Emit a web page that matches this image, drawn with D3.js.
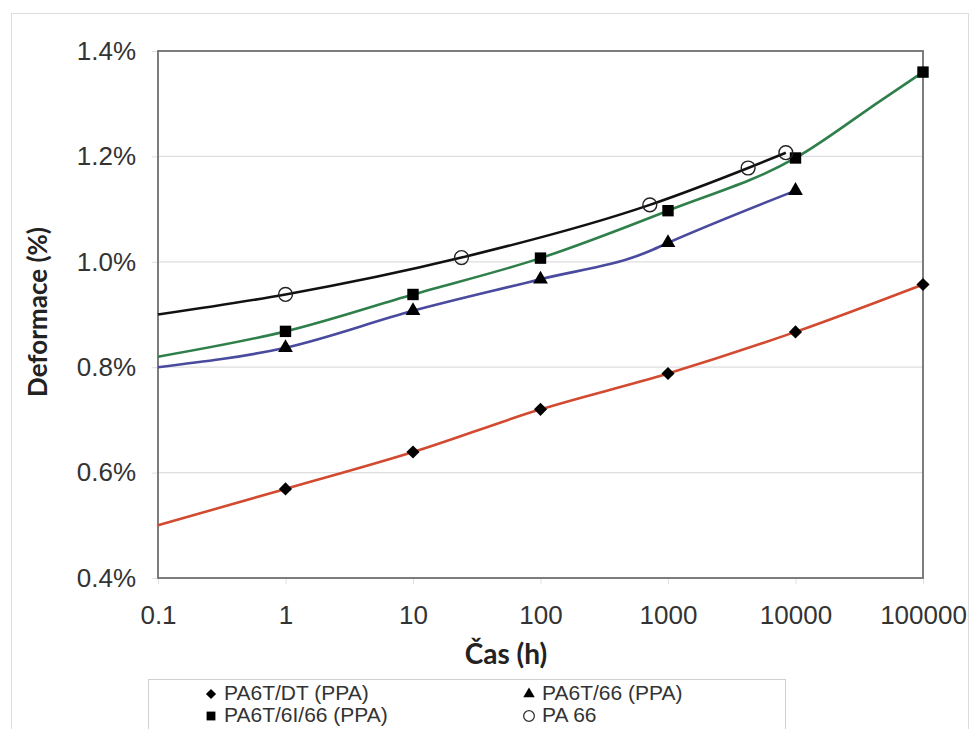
<!DOCTYPE html>
<html>
<head>
<meta charset="utf-8">
<script src="https://cdnjs.cloudflare.com/ajax/libs/d3/7.8.5/d3.min.js"></script>
<style>
  html, body { margin: 0; padding: 0; background: #fff; }
  svg { display: block; }
</style>
</head>
<body>
<svg id="chart" width="971" height="729"></svg>
<script>
"use strict";

// time axis (hours, log scale) and deformation axis (%)
const xTicks = [0.1, 1, 10, 100, 1000, 10000, 100000];
const yTicks = [0.4, 0.6, 0.8, 1.0, 1.2, 1.4];

// PA6T/DT (PPA) - red, diamonds
const dtTimes  = [0.1, 1, 10, 100, 1000, 10000, 100000];
const dtValues = [0.500, 0.569, 0.639, 0.720, 0.788, 0.867, 0.957];
const dtMarked = [0, 1, 1, 1, 1, 1, 1];

// PA6T/66 (PPA) - blue, triangles
const t66Times  = [0.1, 1, 10, 100, 680, 1000, 10000];
const t66Values = [0.800, 0.837, 0.907, 0.967, 1.018, 1.036, 1.135];
const t66Marked = [0, 1, 1, 1, 0, 1, 1];

// PA6T/6I/66 (PPA) - green, squares
const t6iTimes  = [0.1, 1, 10, 100, 1000, 10000, 46000, 100000];
const t6iValues = [0.820, 0.868, 0.938, 1.007, 1.097, 1.197, 1.305, 1.360];
const t6iMarked = [0, 1, 1, 1, 1, 1, 0, 1];

// PA 66 - black, open circles
const pa66Times  = [0.1, 1, 24, 720, 4250, 8400];
const pa66Values = [0.900, 0.938, 1.008, 1.108, 1.178, 1.207];
const pa66Marked = [0, 1, 1, 1, 1, 1];

const series = [
    { name: 'PA6T/DT (PPA)', times: dtTimes, values: dtValues, marked: dtMarked, color: '#d24a30', symbol: d3.symbolDiamond2, fill: '#000' },
    { name: 'PA6T/66 (PPA)', times: t66Times, values: t66Values, marked: t66Marked, color: '#4a4a9e', symbol: d3.symbolTriangle, fill: '#000' },
    { name: 'PA6T/6I/66 (PPA)', times: t6iTimes, values: t6iValues, marked: t6iMarked, color: '#2f7f4b', symbol: d3.symbolSquare, fill: '#000' },
    { name: 'PA 66', times: pa66Times, values: pa66Values, marked: pa66Marked, color: '#111', symbol: d3.symbolCircle, fill: 'none' }
];

// legend order as in the picture: two columns
const legendOrder = ['PA6T/DT (PPA)', 'PA6T/66 (PPA)', 'PA6T/6I/66 (PPA)', 'PA 66'];

const svg = d3.select('#chart');
const plot = { left: 158, top: 51, right: 923, bottom: 578 };

const x = d3.scaleLog()
    .domain([0.1, 100000])
    .range([plot.left, plot.right]);
const y = d3.scaleLinear()
    .domain([0.4, 1.4])
    .range([plot.bottom, plot.top]);

// outer chart frame
svg.append('rect')
    .attr('x', 11.5)
    .attr('y', 13.5)
    .attr('width', 957)
    .attr('height', 740)
    .attr('fill', '#fff')
    .attr('stroke', '#dcdcdc')
    .attr('stroke-width', 1);

// horizontal gridlines
svg.append('g')
    .selectAll('line')
    .data(yTicks)
    .enter()
    .append('line')
    .attr('x1', plot.left)
    .attr('x2', plot.right)
    .attr('y1', d => y(d))
    .attr('y2', d => y(d))
    .attr('stroke', '#dedede')
    .attr('stroke-width', 1.2);

// y axis labels
const yAxis = d3.axisLeft(y)
    .tickValues(yTicks)
    .tickSize(6)
    .tickPadding(16)
    .tickFormat(d => d3.format('.1f')(d) + '%');
svg.append('g')
    .attr('transform', 'translate(' + plot.left + ',0)')
    .call(yAxis)
    .call(g => g.select('.domain').remove())
    .call(g => g.selectAll('.tick line').attr('stroke', '#e0e0e0'))
    .call(g => g.selectAll('.tick text')
        .attr('font-family', '"Liberation Sans", Arial, sans-serif')
        .attr('font-size', 26)
        .attr('fill', '#333'));

// x axis labels
const xAxis = d3.axisBottom(x)
    .tickValues(xTicks)
    .tickSize(6)
    .tickPadding(22)
    .tickFormat(d => String(d));
svg.append('g')
    .attr('transform', 'translate(0,' + plot.bottom + ')')
    .call(xAxis)
    .call(g => g.select('.domain').remove())
    .call(g => g.selectAll('.tick line').attr('stroke', '#e0e0e0'))
    .call(g => g.selectAll('.tick text')
        .attr('font-family', '"Liberation Sans", Arial, sans-serif')
        .attr('font-size', 26)
        .attr('fill', '#333'));

// plot frame
svg.append('rect')
    .attr('x', plot.left)
    .attr('y', plot.top)
    .attr('width', plot.right - plot.left)
    .attr('height', plot.bottom - plot.top)
    .attr('fill', 'none')
    .attr('stroke', '#6f6f6f')
    .attr('stroke-width', 1.8);

// axis titles
svg.append('text')
    .attr('transform', 'translate(40,312) rotate(-90)')
    .attr('text-anchor', 'middle')
    .attr('dominant-baseline', 'middle')
    .attr('font-family', 'Lato, "Open Sans", sans-serif')
    .attr('font-weight', 'bold')
    .attr('font-size', 26)
    .attr('fill', '#222')
    .text('Deformace (%)');

svg.append('text')
    .attr('x', 506)
    .attr('y', 657)
    .attr('text-anchor', 'middle')
    .attr('dominant-baseline', 'middle')
    .attr('font-family', 'Lato, "Open Sans", sans-serif')
    .attr('font-weight', 'bold')
    .attr('font-size', 28)
    .attr('fill', '#222')
    .text('Čas (h)');

const line = d3.line()
    .x(d => x(d.t))
    .y(d => y(d.v))
    .curve(d3.curveMonotoneX);

function symbolSize(s) {
    if (s === d3.symbolCircle) { return 150; }
    if (s === d3.symbolSquare) { return 130; }
    if (s === d3.symbolTriangle) { return 95; }
    return 110;
}

const lines = svg.append('g');
series.forEach(function (s) {
    var pts = s.times.map((t, i) => ({ t: t, v: s.values[i], m: s.marked[i] }));
    lines.append('path')
        .datum(pts)
        .attr('d', line)
        .attr('fill', 'none')
        .attr('stroke', s.color)
        .attr('stroke-width', 2.6);
    s.points = pts;
});

// markers on top of all lines
series.forEach(function (s) {
    svg.append('g')
        .selectAll('path')
        .data(s.points.filter(d => d.m))
        .enter()
        .append('path')
        .attr('transform', d => 'translate(' + x(d.t) + ',' + y(d.v) + ')')
        .attr('d', d3.symbol().type(s.symbol).size(symbolSize(s.symbol)))
        .attr('fill', s.fill)
        .attr('stroke', s.fill === 'none' ? '#222' : 'none')
        .attr('stroke-width', 1.4);
});

// legend box (cut off by the bottom of the picture)
const legend = svg.append('g');
legend.append('rect')
    .attr('x', 148.5)
    .attr('y', 679.5)
    .attr('width', 637)
    .attr('height', 80)
    .attr('fill', '#fff')
    .attr('stroke', '#d0d0d0')
    .attr('stroke-width', 1);

const legendItems = legend.selectAll('g.item')
    .data(legendOrder.map(n => series.find(s => s.name === n)))
    .enter()
    .append('g')
    .attr('class', 'item')
    .attr('transform', (d, i) => 'translate(' + (i % 2 === 0 ? 211 : 529) + ',' + (i < 2 ? 694 : 716) + ')');

legendItems.append('path')
    .attr('d', d => d3.symbol().type(d.symbol).size(symbolSize(d.symbol) * 0.6)())
    .attr('fill', d => d.fill)
    .attr('stroke', d => d.fill === 'none' ? '#333' : 'none')
    .attr('stroke-width', 1.3);

legendItems.append('text')
    .attr('x', 13)
    .attr('dominant-baseline', 'middle')
    .attr('font-family', '"Liberation Sans", Arial, sans-serif')
    .attr('font-size', 21)
    .attr('fill', '#333')
    .text(d => d.name);
</script>
</body>
</html>
